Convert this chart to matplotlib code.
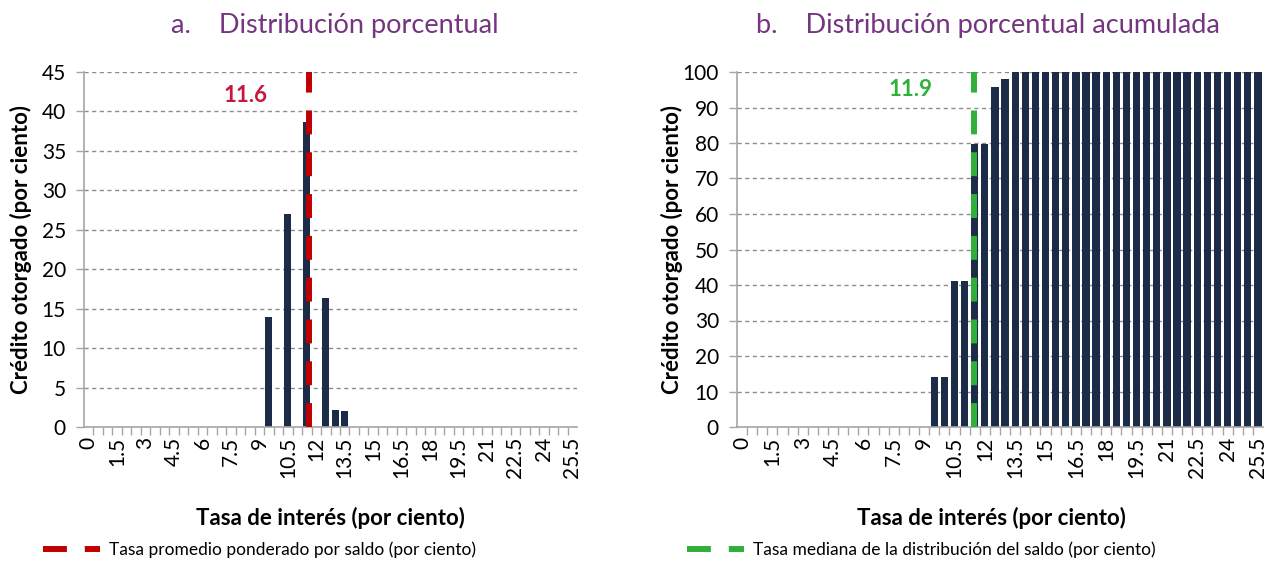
import matplotlib
matplotlib.use("Agg")
import matplotlib.pyplot as plt
import numpy as np

plt.rcParams['font.family'] = ['Lato', 'DejaVu Sans']

# tasas de interes (categorias), 0 a 25.5 cada 0.5
rates = [0, 0.5, 1, 1.5, 2, 2.5, 3, 3.5, 4, 4.5, 5, 5.5, 6, 6.5, 7, 7.5, 8, 8.5,
         9, 9.5, 10, 10.5, 11, 11.5, 12, 12.5, 13, 13.5, 14, 14.5, 15, 15.5,
         16, 16.5, 17, 17.5, 18, 18.5, 19, 19.5, 20, 20.5, 21, 21.5, 22, 22.5,
         23, 23.5, 24, 24.5, 25, 25.5]

# a. distribucion porcentual
dist = [0, 0, 0, 0, 0, 0, 0, 0, 0, 0, 0, 0, 0, 0, 0, 0, 0, 0,
        0, 14.0, 0, 27.0, 0, 38.6, 0, 16.3, 2.1, 2.0, 0, 0, 0, 0,
        0, 0, 0, 0, 0, 0, 0, 0, 0, 0, 0, 0, 0, 0,
        0, 0, 0, 0, 0, 0]

# b. distribucion porcentual acumulada
cum = [0, 0, 0, 0, 0, 0, 0, 0, 0, 0, 0, 0, 0, 0, 0, 0, 0, 0,
       0, 14.0, 14.0, 41.0, 41.0, 79.6, 79.6, 95.9, 98.0, 100, 100, 100, 100, 100,
       100, 100, 100, 100, 100, 100, 100, 100, 100, 100, 100, 100, 100, 100,
       100, 100, 100, 100, 100, 100]

mean_rate = 11.6      # tasa promedio ponderado
median_rate = 11.9    # tasa mediana
median_pos = 11.45    # posicion donde aparece la linea en el grafico

bar_color = '#1C2B48'
purple = '#73367F'
red = '#C00000'
green = '#30B03A'
gray = '#A6A6A6'

fig = plt.figure(figsize=(12.69, 5.61), dpi=100)
ax1 = fig.add_axes([84 / 1269, 1 - 427 / 561, 493 / 1269, 355 / 561])
ax2 = fig.add_axes([737 / 1269, 1 - 427 / 561, 526 / 1269, 355 / 561])


def style_axis(ax, ymax, ystep):
    x = np.arange(len(rates))
    ax.set_xlim(-0.5, len(rates) - 0.5)
    ax.set_ylim(0, ymax)
    ax.set_yticks(np.arange(0, ymax + 1, ystep))
    ax.set_xticks(x[::3])
    ax.set_xticklabels(['%g' % r for r in rates[::3]], rotation=90, fontsize=15)
    ax.set_xticks(x[:-1] + 0.5, minor=True)
    ax.tick_params(axis='x', which='major', length=0, pad=7)
    ax.tick_params(axis='x', which='minor', length=6, color=gray, width=1,
                   direction='out')
    ax.tick_params(axis='y', length=6, color=gray, width=1, pad=7,
                   labelsize=15)
    for s in ['top', 'right']:
        ax.spines[s].set_visible(False)
    for s in ['left', 'bottom']:
        ax.spines[s].set_color(gray)
        ax.spines[s].set_linewidth(1.2)
    ax.yaxis.grid(True, linestyle=(0, (3, 2.5)), color='#8C8C8C', linewidth=1)
    ax.set_axisbelow(True)
    ax.set_ylabel('Crédito otorgado (por ciento)', fontsize=16,
                  fontweight='bold')
    ax.set_xlabel('Tasa de interés (por ciento)', fontsize=16,
                  fontweight='bold')


x = np.arange(len(rates))

style_axis(ax1, 45, 5)
ax1.bar(x, dist, width=0.72, color=bar_color, zorder=2)
mx = rates.index(11.5) + (mean_rate - 11.5) / 0.5
l1, = ax1.plot([mx, mx], [0, 45], color=red, linewidth=4.3,
               linestyle=(0, (4, 3)), zorder=3, clip_on=False,
               label='Tasa promedio ponderado por saldo (por ciento)')
ax1.text(0.327, 0.935, '%.1f' % mean_rate, transform=ax1.transAxes,
         color='#C8173F', fontsize=16, fontweight='bold',
         ha='center', va='center')
ax1.yaxis.set_label_coords(-0.105, 0.5)
ax1.xaxis.set_label_coords(0.5, -0.225)

style_axis(ax2, 100, 10)
ax2.bar(x, cum, width=0.72, color=bar_color, zorder=2)
gx = rates.index(11.5) + (median_pos - 11.5) / 0.5
l2, = ax2.plot([gx, gx], [0, 100], color=green, linewidth=4.3,
               linestyle=(0, (4, 3)), zorder=3, clip_on=False,
               label='Tasa mediana de la distribución del saldo (por ciento)')
ax2.text(0.329, 0.951, '%.1f' % median_rate, transform=ax2.transAxes,
         color=green, fontsize=16, fontweight='bold',
         ha='center', va='center')
ax2.yaxis.set_label_coords(-0.103, 0.5)
ax2.xaxis.set_label_coords(0.483, -0.225)

fig.text(335 / 1269, 1 - 25 / 561, 'a.    Distribución porcentual',
         color=purple, fontsize=19.5, ha='center', va='center')
fig.text(988 / 1269, 1 - 25 / 561, 'b.    Distribución porcentual acumulada',
         color=purple, fontsize=19.5, ha='center', va='center')

ax1.legend(handles=[l1], loc='center left', bbox_to_anchor=(43 / 1269, 11 / 561),
           bbox_transform=fig.transFigure, frameon=False, fontsize=12.5,
           handlelength=3.3, handletextpad=0.5, borderpad=0, borderaxespad=0)
ax2.legend(handles=[l2], loc='center left', bbox_to_anchor=(687 / 1269, 11 / 561),
           bbox_transform=fig.transFigure, frameon=False, fontsize=12.5,
           handlelength=3.3, handletextpad=0.5, borderpad=0, borderaxespad=0)

fig.savefig('out.png', dpi=100)
